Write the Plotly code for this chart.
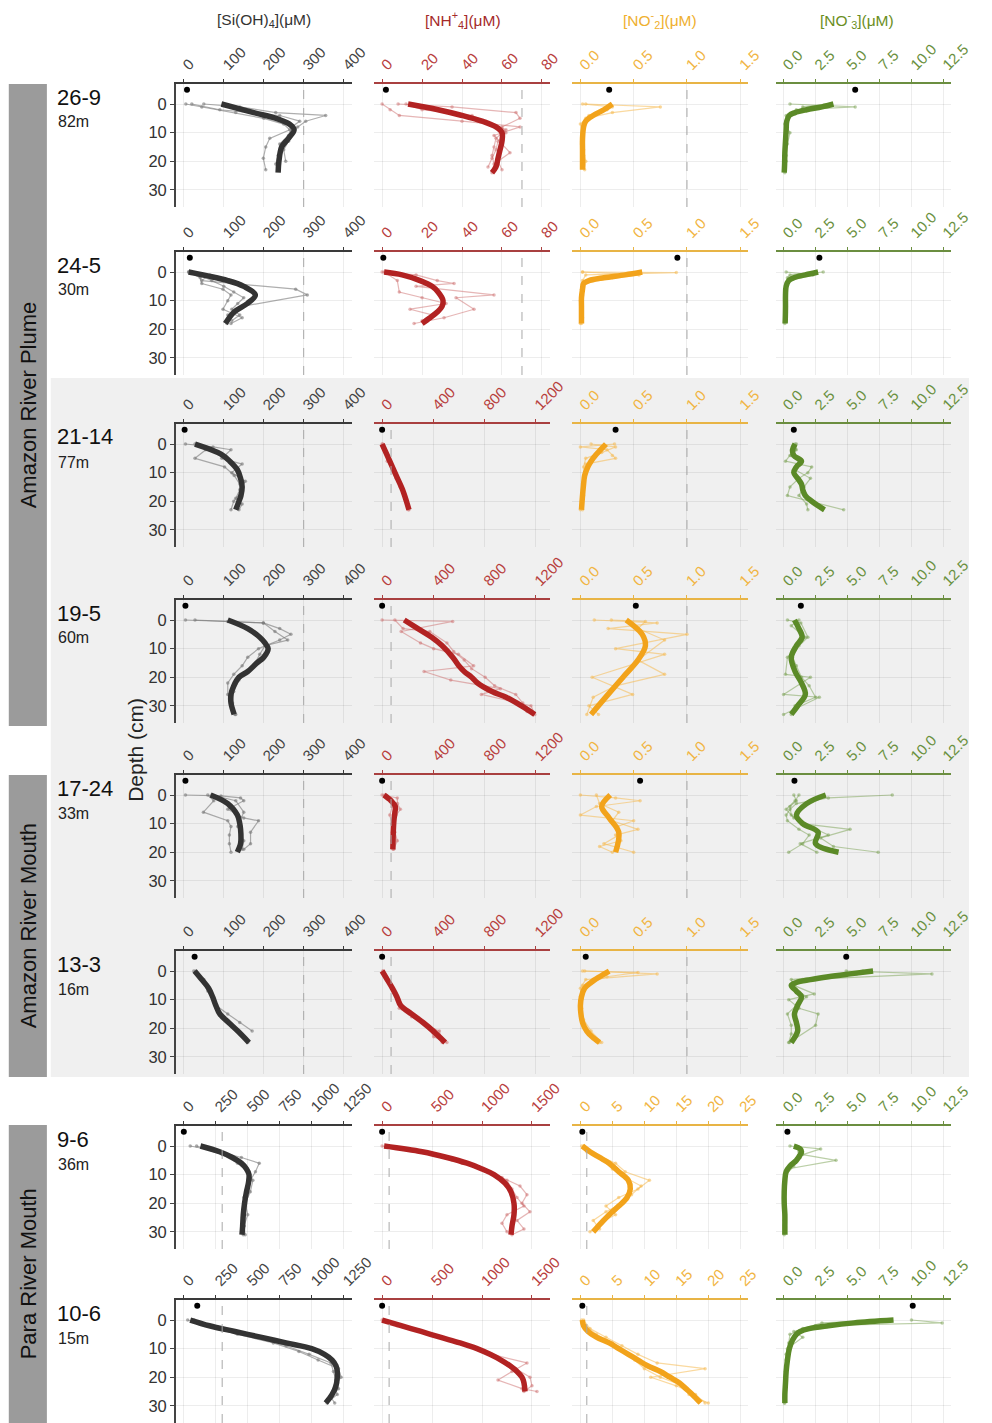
import plotly.graph_objects as go

W, H = 992, 1423

STATIONS = ["26-9", "24-5", "21-14", "19-5", "17-24", "13-3", "9-6", "10-6"]
WATER_DEPTH = ["82m", "30m", "77m", "60m", "33m", "16m", "36m", "15m"]
REGIONS = ["Amazon River Plume", "Amazon River Mouth", "Para River Mouth"]

# bottom-water concentrations (plotted just above the sediment surface)
BW_DEPTH = -5
SI_BW = [8, 15, 2, 4, 4, 27, 0, 105]
NH4_BW = [1.9, 0.6, 0, 0, 0, 0, 0, 0]
NO2_BW = [0.27, 0.91, 0.33, 0.52, 0.56, 0.05, 0.3, 0.3]
NO3_BW = [5.6, 2.8, 0.8, 1.35, 0.85, 4.9, 0.3, 10.1]

# reference lines (dashed)
SI_REF = 300
NH4_REF = 70
NO2_REF = 1.0

# ---- mean (smoothed) profiles: station -> (depth cm, value uM)
SI_MEAN = {
    "26-9": ([0, 3, 5, 7, 9, 12, 15, 20, 24], [94, 175, 231, 264, 276, 262, 245, 238, 236]),
    "24-5": ([0, 3, 5, 8, 11, 14, 18], [12, 110, 150, 179, 159, 126, 104]),
    "21-14": ([0, 3.5, 6, 9, 12, 15, 18, 20, 23], [28, 93, 115, 134, 142, 146, 143, 138, 130]),
    "19-5": ([0, 3, 6, 8, 10, 13, 15, 18, 20, 23, 26, 29, 33], [110, 160, 190, 203, 211, 200, 183, 160, 138, 125, 118, 118, 126]),
    "17-24": ([0, 3, 7, 10, 12, 15, 17, 20], [67, 110, 134, 140, 142, 143, 142, 134]),
    "13-3": ([0, 3, 6, 9, 12, 15, 18, 21, 25], [27, 45, 62, 72, 80, 90, 112, 135, 163]),
    "9-6": ([0, 2, 4, 6, 8, 10, 13, 16, 20, 24, 28, 31], [130, 280, 380, 450, 490, 510, 505, 490, 475, 465, 460, 455]),
    "10-6": ([0, 2, 4, 6, 8, 10, 12, 14, 16, 18, 20, 23, 26, 29], [50, 200, 400, 600, 800, 1000, 1100, 1160, 1190, 1200, 1200, 1190, 1160, 1110]),
}
SI_REPS = {
    "26-9": [([0, 1, 3, 5, 7, 9, 12, 15, 19, 23], [5, 45, 130, 200, 250, 265, 215, 205, 199, 205]),
             ([0, 1, 3, 4, 6, 8, 10, 13, 16, 20], [50, 140, 230, 355, 305, 285, 270, 262, 250, 255]),
             ([0, 2, 4, 6, 8, 11, 14, 18, 21], [20, 90, 240, 290, 270, 262, 240, 236, 230])],
    "24-5": [([0, 1, 3, 6, 8, 12, 15, 18], [12, 65, 45, 280, 309, 146, 110, 108]),
             ([0, 2, 4, 6, 8, 10, 13, 16, 18], [12, 41, 45, 98, 118, 110, 98, 146, 118]),
             ([0, 1, 3, 5, 7, 9, 11, 13, 15, 17], [15, 40, 70, 100, 125, 150, 135, 120, 140, 120])],
    "21-14": [([0, 1, 2, 5, 7, 10, 13, 16, 19, 21, 23], [4, 73, 118, 95, 146, 120, 154, 140, 130, 146, 138]),
              ([0, 2, 5, 8, 11, 14, 17, 20, 23], [28, 55, 28, 102, 126, 140, 142, 125, 118])],
    "19-5": [([0, 0.5, 1, 3, 5, 7, 10, 13, 16, 19, 22, 26, 29, 33], [4, 110, 199, 240, 268, 240, 187, 160, 146, 125, 110, 110, 118, 130]),
             ([0, 1, 4, 7, 9, 12, 16, 21, 25, 29, 33], [28, 199, 228, 260, 203, 190, 175, 138, 125, 122, 128])],
    "17-24": [([0, 0.3, 1, 2, 5, 8, 9, 13, 17, 19], [4, 93, 142, 150, 110, 150, 187, 167, 167, 150]),
              ([0, 2, 6, 9, 11, 14, 17, 20], [60, 75, 49, 110, 118, 114, 114, 118]),
              ([0, 2, 6, 11, 16, 19], [70, 130, 150, 135, 150, 146])],
    "13-3": [([0, 2, 4, 7, 10, 13, 16, 19, 22, 25], [25, 40, 50, 60, 75, 82, 95, 120, 140, 160]),
             ([0, 3, 6, 9, 12, 15, 18, 21], [30, 50, 60, 70, 80, 110, 140, 171])],
    "9-6": [([0, 2, 4, 6, 9, 12, 15, 18, 21, 25, 28, 31], [50, 280, 450, 590, 560, 520, 500, 470, 480, 460, 470, 465]),
            ([0, 3, 6, 9, 12, 16, 20, 24, 28, 31], [100, 300, 420, 500, 540, 520, 480, 500, 470, 480])],
    "10-6": [([0, 2, 5, 8, 11, 14, 17, 20, 23, 26, 29], [30, 180, 420, 700, 900, 1050, 1210, 1230, 1180, 1200, 1120]),
             ([0, 3, 6, 9, 12, 15, 18, 21, 24, 27, 29], [80, 300, 560, 800, 980, 1150, 1170, 1190, 1210, 1150, 1180])],
}

NH4_MEAN = {
    "26-9": ([0, 2, 4, 6, 8, 10, 13, 16, 19, 22, 24], [13, 28, 40, 50, 57, 60, 60, 59, 58, 57, 55]),
    "24-5": ([0, 1, 3, 5, 7, 10, 12, 14, 16, 18], [1, 10, 19, 25, 28, 30.5, 30, 27.6, 24, 20]),
    "21-14": ([0, 4, 8, 12, 16, 20, 23], [0, 40, 80, 120, 160, 190, 210]),
    "19-5": ([0, 3, 6, 9, 13, 16, 18, 20, 22, 25, 27, 30, 33], [173, 280, 388, 470, 552, 600, 642, 700, 746, 860, 970, 1090, 1194]),
    "17-24": ([0, 2, 4, 6, 9, 12, 15, 19], [15, 70, 104, 100, 92, 88, 86, 84]),
    "13-3": ([0, 3, 6, 9, 12, 15, 18, 21, 25], [0, 40, 80, 115, 145, 230, 320, 400, 493]),
    "9-6": ([0, 2, 4, 6, 8, 10, 13, 16, 20, 24, 28, 31], [20, 400, 650, 850, 1000, 1120, 1230, 1290, 1320, 1320, 1300, 1290]),
    "10-6": ([0, 2, 4, 6, 8, 10, 12, 14, 16, 18, 20, 22, 25], [0, 190, 390, 580, 780, 950, 1080, 1190, 1280, 1350, 1400, 1420, 1430]),
}
NH4_REPS = {
    "26-9": [([0, 2, 4, 6, 8, 11, 14, 17, 20, 23], [0, 4, 8.6, 40, 69, 56, 60, 64, 58, 60]),
             ([0, 1, 3, 5, 8, 10, 13, 16, 19, 22], [8, 35, 67, 69, 60, 62, 58, 57, 55, 53]),
             ([0, 2, 4, 6, 9, 12, 15, 18, 21, 24], [12, 20, 45, 52, 62, 57, 56, 55, 56, 55])],
    "24-5": [([0, 1, 3, 4, 5, 8, 9, 13, 16, 18], [0, 17, 27.6, 36, 17, 56, 37, 46, 31, 16]),
             ([0, 3, 7, 9, 11, 13, 15, 17], [1, 7.6, 8.6, 20, 32, 14, 25, 20])],
    "21-14": [([0, 3, 6, 9, 12, 15, 18, 21, 23], [0, 25, 40, 80, 110, 140, 170, 195, 210]),
              ([0, 2, 5, 8, 11, 14, 17, 20, 23], [5, 20, 55, 80, 105, 145, 160, 190, 205])],
    "19-5": [([0, 0.5, 4, 8, 10, 12, 16, 18, 21, 24, 26, 30, 33], [0, 552, 149, 300, 403, 597, 716, 328, 537, 925, 776, 1164, 1194]),
             ([0, 3, 4, 8, 11, 14, 17, 20, 23, 26, 29, 32], [100, 164, 373, 507, 560, 642, 700, 806, 880, 1045, 1100, 1134])],
    "17-24": [([0, 1, 3, 5, 7, 10, 13, 16, 19], [0, 119, 120, 143, 110, 90, 100, 119, 90]),
              ([0, 2, 4, 7, 10, 13, 16, 19], [20, 75, 80, 60, 75, 80, 75, 85])],
    "13-3": [([0, 3, 6, 10, 13, 16, 19, 21, 25], [10, 40, 85, 134, 134, 230, 350, 448, 470]),
             ([0, 2, 5, 8, 11, 14, 17, 20, 23, 25], [5, 35, 70, 110, 140, 200, 300, 370, 403, 507])],
    "9-6": [([0, 2, 5, 8, 11, 14, 17, 20, 23, 26, 29, 31], [0, 350, 700, 1000, 1200, 1380, 1450, 1400, 1480, 1350, 1420, 1300]),
            ([0, 3, 6, 9, 12, 15, 18, 21, 24, 27, 30], [50, 500, 800, 1050, 1250, 1300, 1350, 1420, 1250, 1200, 1250])],
    "10-6": [([0, 3, 6, 9, 12, 15, 18, 21, 24, 25], [0, 300, 560, 880, 1100, 1450, 1300, 1160, 1400, 1550]),
             ([0, 2, 5, 8, 11, 14, 17, 20, 23, 25], [20, 150, 450, 750, 1000, 1200, 1340, 1480, 1500, 1420])],
}

NO2_MEAN = {
    "26-9": ([0, 2, 4, 6, 8, 12, 16, 20, 23], [0.30, 0.22, 0.12, 0.05, 0.03, 0.02, 0.02, 0.02, 0.02]),
    "24-5": ([0, 1, 2, 3, 4, 6, 9, 12, 15, 18], [0.58, 0.42, 0.22, 0.08, 0.03, 0.02, 0.01, 0.01, 0.01, 0.01]),
    "21-14": ([0, 2, 4, 6, 8, 11, 14, 18, 23], [0.24, 0.19, 0.14, 0.10, 0.07, 0.04, 0.03, 0.02, 0.01]),
    "19-5": ([0, 5, 9, 14, 20, 26, 33], [0.43, 0.58, 0.61, 0.54, 0.40, 0.26, 0.10]),
    "17-24": ([0, 4, 8, 13, 20], [0.28, 0.20, 0.27, 0.36, 0.33]),
    "13-3": ([0, 2, 4, 6, 9, 12, 15, 18, 21, 23, 25], [0.27, 0.18, 0.10, 0.04, 0.01, 0.0, 0.005, 0.02, 0.06, 0.11, 0.18]),
    "9-6": ([0, 2, 4, 6, 9, 12, 15, 18, 21, 24, 27, 30], [0.3, 1.5, 3.0, 4.5, 6.0, 7.5, 7.8, 7.3, 6.0, 4.5, 3.2, 2.0]),
    "10-6": ([0, 2, 4, 6, 8, 10, 12, 14, 16, 18, 20, 22, 24, 26, 29], [0.3, 0.5, 1.2, 2.5, 4.5, 6.0, 7.5, 9.0, 10.5, 12.5, 14.0, 15.5, 16.5, 17.5, 18.8]),
}
NO2_REPS = {
    "26-9": [([0, 1, 3, 5, 8, 12, 16, 20, 23], [0.05, 0.75, 0.30, 0.05, 0.02, 0.02, 0.03, 0.05, 0.04]),
             ([0, 1, 2, 4, 7, 10, 14, 18, 22], [0.02, 0.30, 0.25, 0.08, 0.0, 0.02, 0.01, 0.03, 0.02])],
    "24-5": [([0, 0.2, 1, 3, 6, 10, 14, 18], [0.02, 0.90, 0.05, 0.02, 0.01, 0.0, 0.01, 0.0]),
             ([0, 1, 2, 4, 8, 12, 16, 18], [0.02, 0.55, 0.30, 0.05, 0.02, 0.01, 0.02, 0.01])],
    "21-14": [([0, 1, 2, 4, 5, 7, 10, 14, 18, 23], [0.32, 0.0, 0.25, 0.30, 0.33, 0.05, 0.04, 0.02, 0.03, 0.0]),
              ([0, 1, 3, 5, 8, 12, 16, 20, 23], [0.10, 0.33, 0.20, 0.05, 0.03, 0.04, 0.02, 0.01, 0.02])],
    "19-5": [([0, 1, 3, 5, 10, 12, 20, 26, 30, 33], [0.13, 0.72, 0.26, 1.0, 0.33, 0.79, 0.11, 0.49, 0.08, 0.17]),
             ([0, 0.5, 3, 7, 14, 19, 23, 27, 33], [0.29, 0.61, 0.54, 0.79, 0.54, 0.79, 0.33, 0.12, 0.06])],
    "17-24": [([0, 1, 2, 4, 7, 9, 11, 14, 17, 20], [0.0, 0.33, 0.56, 0.15, 0.0, 0.50, 0.35, 0.36, 0.22, 0.50]),
              ([0, 3, 6, 9, 12, 14, 16, 18, 20], [0.15, 0.18, 0.36, 0.30, 0.54, 0.33, 0.38, 0.18, 0.30])],
    "13-3": [([0, 1, 3, 6, 10, 14, 18, 22, 25], [0.04, 0.72, 0.05, 0.0, 0.01, 0.0, 0.02, 0.08, 0.18]),
             ([0, 0.5, 2, 5, 9, 13, 17, 21, 25], [0.02, 0.54, 0.25, 0.02, 0.0, 0.01, 0.03, 0.10, 0.20])],
    "9-6": [([0, 3, 6, 9, 12, 15, 18, 21, 24, 27, 30], [0.5, 2.5, 5.5, 7.0, 10.8, 9.0, 6.0, 4.0, 5.5, 3.0, 1.5]),
            ([0, 2, 5, 8, 11, 14, 17, 20, 23, 26, 29], [0.2, 1.0, 3.5, 5.0, 7.0, 9.5, 8.0, 6.5, 4.0, 2.0, 3.0])],
    "10-6": [([0, 3, 6, 9, 12, 15, 17, 20, 23, 26, 29], [0.5, 1.5, 4.0, 6.5, 9.0, 12.0, 19.5, 11.0, 15.0, 18.0, 19.5]),
             ([0, 2, 5, 8, 11, 14, 17, 20, 23, 26, 29], [0.2, 0.8, 2.5, 5.0, 7.0, 8.5, 10.0, 12.5, 16.0, 17.0, 20.0])],
}

NO3_MEAN = {
    "26-9": ([0, 1, 2, 3, 4, 6, 9, 13, 17, 21, 24], [3.9, 3.0, 1.8, 0.9, 0.45, 0.25, 0.2, 0.15, 0.1, 0.08, 0.05]),
    "24-5": ([0, 1, 2, 3, 5, 8, 12, 15, 18], [2.7, 1.7, 0.8, 0.4, 0.2, 0.15, 0.15, 0.14, 0.12]),
    "21-14": ([0, 2, 4, 6, 8, 10, 12, 14, 16, 18, 20, 23], [0.9, 0.7, 0.8, 1.4, 1.0, 0.8, 1.1, 1.4, 1.5, 1.7, 2.2, 3.2]),
    "19-5": ([0, 3, 6, 9, 13, 18, 22, 26, 30, 33], [0.85, 1.2, 1.45, 1.0, 0.6, 0.9, 1.4, 1.7, 1.1, 0.6]),
    "17-24": ([0, 3, 7, 10, 13, 17, 20], [3.3, 1.8, 1.0, 1.5, 2.7, 2.5, 4.3]),
    "13-3": ([0, 1, 2, 3, 4, 5, 7, 9, 12, 15, 18, 21, 25], [7.0, 5.2, 3.5, 2.1, 1.0, 0.6, 1.0, 1.4, 1.1, 0.85, 1.0, 1.1, 0.6]),
    "9-6": ([0, 1, 2, 3, 5, 7, 9, 12, 16, 20, 24, 28, 31], [0.8, 1.3, 1.4, 1.3, 1.0, 0.5, 0.2, 0.1, 0.05, 0.05, 0.1, 0.1, 0.1]),
    "10-6": ([0, 1, 2, 3, 4, 5, 7, 10, 14, 18, 22, 26, 29], [8.6, 5.5, 3.5, 2.0, 1.3, 1.0, 0.7, 0.45, 0.3, 0.2, 0.15, 0.1, 0.1]),
}
NO3_REPS = {
    "26-9": [([0, 1, 2, 4, 8, 12, 16, 20, 24], [0.5, 5.6, 1.0, 0.2, 0.3, 0.2, 0.1, 0.2, 0.1]),
             ([0, 1, 3, 5, 7, 10, 14, 18, 22], [3.6, 1.5, 1.2, 0.3, 0.1, 0.5, 0.3, 0.2, 0.1])],
    "24-5": [([0, 1, 2, 4, 8, 12, 16, 18], [3.1, 0.5, 0.3, 0.3, 0.1, 0.2, 0.1, 0.1]),
             ([0, 1, 3, 6, 10, 14, 17], [0.2, 2.3, 0.4, 0.2, 0.2, 0.1, 0.2])],
    "21-14": [([0, 2, 4, 6, 8, 10, 12, 15, 18, 23], [0.9, 0.9, 0.5, 0.15, 2.2, 1.9, 1.2, 0.5, 0.3, 4.7]),
              ([0, 2, 4, 6, 9, 12, 15, 18, 21, 23], [1.0, 1.0, 0.6, 1.2, 0.9, 2.1, 1.6, 1.2, 1.8, 1.9])],
    "19-5": [([0, 1, 6, 13, 19, 20, 26, 27, 33], [0.3, 1.35, 1.9, 0.3, 0.15, 2.1, 0.0, 2.8, 0.0]),
             ([0, 2, 6, 9, 13, 16, 20, 23, 27, 30, 33], [1.2, 0.6, 1.7, 1.2, 0.7, 1.0, 1.4, 2.0, 2.5, 0.9, 0.6])],
    "17-24": [([0, 1, 3, 5, 7, 9, 12, 14, 17, 20], [8.5, 3.5, 1.0, 0.5, 0.2, 0.3, 1.2, 2.0, 1.5, 0.4]),
              ([0, 2, 4, 7, 10, 12, 15, 18, 20], [0.8, 1.0, 0.5, 0.6, 1.4, 5.2, 2.9, 3.9, 7.4]),
              ([0, 2, 5, 8, 11, 14, 17, 20], [1.2, 0.9, 0.2, 0.8, 2.1, 3.5, 1.3, 2.6])],
    "13-3": [([0, 1, 3, 5, 8, 10, 13, 15, 19, 25], [4.9, 11.6, 1.5, 0.8, 2.4, 0.4, 1.2, 2.7, 2.5, 0.45]),
             ([0, 1, 3, 6, 9, 12, 15, 19, 22, 25], [6.2, 5.7, 0.6, 0.8, 1.8, 1.0, 0.3, 0.6, 0.6, 0.4])],
    "9-6": [([0, 1, 3, 5, 8, 12, 16, 20, 24, 28, 31], [0.5, 2.9, 1.5, 4.1, 0.3, 0.1, 0.05, 0.1, 0.05, 0.1, 0.05]),
            ([0, 2, 4, 7, 10, 14, 18, 22, 26, 30], [1.0, 1.2, 1.3, 0.8, 0.2, 0.1, 0.05, 0.1, 0.05, 0.1])],
    "10-6": [([0, 1, 2, 4, 6, 10, 14, 18, 22, 26, 29], [10.0, 12.4, 2.5, 0.8, 1.5, 0.3, 0.2, 0.15, 0.1, 0.1, 0.05]),
             ([0, 1, 3, 5, 8, 12, 16, 20, 24, 29], [8.0, 3.0, 1.5, 0.5, 0.4, 0.2, 0.15, 0.1, 0.1, 0.1])],
}

# axis limits (before 5% expansion) and ticks per row
SI_LIM = [400] * 6 + [1250] * 2
SI_TICKS = [[0, 100, 200, 300, 400]] * 6 + [[0, 250, 500, 750, 1000, 1250]] * 2
NH4_LIM = [80, 80, 1250, 1250, 1250, 1250, 1600, 1600]
NH4_TICKS = [[0, 20, 40, 60, 80]] * 2 + [[0, 400, 800, 1200]] * 4 + [[0, 500, 1000, 1500]] * 2
NO2_LIM = [1.5] * 6 + [25] * 2
NO2_TICKS = [[0, 0.5, 1.0, 1.5]] * 6 + [[0, 5, 10, 15, 20, 25]] * 2
NO3_LIM = [12.5] * 8
NO3_TICKS = [[0, 2.5, 5, 7.5, 10, 12.5]] * 8

VARS = [
    dict(mean=SI_MEAN, reps=SI_REPS, bw=SI_BW, lim=SI_LIM, ticks=SI_TICKS, ref=SI_REF,
         thick="#333333", thin="rgba(120,120,120,0.6)", tick="#444444", axis="#3a3a3a",
         title="[Si(OH)<sub>4</sub>](μM)", tcol="#333333", hx=270),
    dict(mean=NH4_MEAN, reps=NH4_REPS, bw=NH4_BW, lim=NH4_LIM, ticks=NH4_TICKS, ref=NH4_REF,
         thick="#b22222", thin="rgba(205,110,110,0.5)", tick="#b8403e", axis="#a94040",
         title="[NH<sup>+</sup><sub>4</sub>](μM)", tcol="#a52a2a", hx=474),
    dict(mean=NO2_MEAN, reps=NO2_REPS, bw=NO2_BW, lim=NO2_LIM, ticks=NO2_TICKS, ref=NO2_REF,
         thick="#f2a31b", thin="rgba(245,185,80,0.55)", tick="#f1b544", axis="#e8b445",
         title="[NO<sup>-</sup><sub>2</sub>](μM)", tcol="#efb030", hx=676),
    dict(mean=NO3_MEAN, reps=NO3_REPS, bw=NO3_BW, lim=NO3_LIM, ticks=NO3_TICKS, ref=None,
         thick="#5b8a27", thin="rgba(120,160,80,0.5)", tick="#6a9040", axis="#6b8e40",
         title="[NO<sup>-</sup><sub>3</sub>](μM)", tcol="#6b8e23", hx=877),
]

COL_X = [(180, 360), (383, 563), (586, 766), (794, 974)]
ROW_TOP = [84, 252, 424, 600, 775, 951, 1126, 1300]
PANEL_H = 123
FONT = "Liberation Sans, Arial, sans-serif"
GRID = "rgba(0,0,0,0.07)"


def px_x(x):
    return x / W


def px_y(y):
    return 1 - y / H


fig = go.Figure()
layout = dict(width=W, height=H, margin=dict(l=0, r=0, t=0, b=0), autosize=False,
              paper_bgcolor="white", plot_bgcolor="rgba(0,0,0,0)", showlegend=False,
              hovermode=False, font=dict(family=FONT, color="#222"))
shapes = []
annotations = []

# background shading and region bands
shapes.append(dict(type="rect", xref="paper", yref="paper", layer="below",
                   x0=px_x(52), x1=1, y0=px_y(1077), y1=px_y(378),
                   fillcolor="#f0f0f0", line=dict(width=0)))
BANDS = [(84, 726), (775, 1077), (1125, 1423)]
for (y0, y1), name in zip(BANDS, REGIONS):
    shapes.append(dict(type="rect", xref="paper", yref="paper", layer="below",
                       x0=px_x(9), x1=px_x(48), y0=px_y(y1), y1=px_y(y0),
                       fillcolor="#9b9b9b", line=dict(width=0)))
    annotations.append(dict(text=name, xref="paper", yref="paper", x=px_x(29), y=px_y((y0 + y1) / 2),
                            showarrow=False, textangle=-90, font=dict(size=22, color="#111", family=FONT),
                            xanchor="center", yanchor="middle"))

for c, v in enumerate(VARS):
    annotations.append(dict(text=v["title"], xref="paper", yref="paper", x=px_x(v["hx"]), y=px_y(20),
                            showarrow=False, font=dict(size=15.5, color=v["tcol"], family=FONT),
                            xanchor="center", yanchor="middle"))

for r, st in enumerate(STATIONS):
    top = ROW_TOP[r]
    annotations.append(dict(text=st, xref="paper", yref="paper", x=px_x(56), y=px_y(top + 13),
                            showarrow=False, font=dict(size=22, color="#111", family=FONT),
                            xanchor="left", yanchor="middle"))
    annotations.append(dict(text=WATER_DEPTH[r], xref="paper", yref="paper", x=px_x(57), y=px_y(top + 38),
                            showarrow=False, font=dict(size=16, color="#222", family=FONT),
                            xanchor="left", yanchor="middle"))
    for c, v in enumerate(VARS):
        n = r * 4 + c + 1
        xa = "x" if n == 1 else f"x{n}"
        ya = "y" if n == 1 else f"y{n}"
        lim = v["lim"][r]
        ticks = v["ticks"][r]
        fmt = ".1f" if (c == 2 and lim < 5) or c == 3 else ""
        layout["xaxis" if n == 1 else f"xaxis{n}"] = dict(
            domain=[px_x(COL_X[c][0]), px_x(COL_X[c][1])], anchor=ya, side="top",
            range=[-0.05 * lim, 1.05 * lim], tickvals=ticks, tickformat=fmt,
            tickangle=-45, ticks="outside", ticklen=3, tickcolor=v["axis"],
            tickfont=dict(size=15, color=v["tick"], family=FONT),
            showline=True, linecolor=v["axis"], linewidth=1.5,
            showgrid=True, gridcolor=GRID, gridwidth=1, zeroline=False, fixedrange=True)
        layout["yaxis" if n == 1 else f"yaxis{n}"] = dict(
            domain=[px_y(top + PANEL_H), px_y(top)], anchor=xa, range=[36, -7],
            tickvals=[0, 10, 20, 30], showticklabels=(c == 0),
            ticks="outside" if c == 0 else "", ticklen=4, tickcolor="#444",
            tickfont=dict(size=16.5, color="#333", family=FONT),
            showline=(c == 0), linecolor="#444", linewidth=1.5,
            showgrid=True, gridcolor=GRID, zeroline=False, fixedrange=True)
        if v["ref"] is not None:
            shapes.append(dict(type="line", xref=xa, yref=f"{ya} domain", x0=v["ref"], x1=v["ref"],
                               y0=0, y1=1, line=dict(color="#a8a8a8", width=1, dash="dash")))
        for dd, vv in v["reps"][st]:
            fig.add_trace(go.Scatter(x=vv, y=dd, mode="lines+markers", xaxis=xa, yaxis=ya,
                                     line=dict(color=v["thin"], width=1.2),
                                     marker=dict(size=3.5, color=v["thin"])))
        dd, vv = v["mean"][st]
        fig.add_trace(go.Scatter(x=vv, y=dd, mode="lines", xaxis=xa, yaxis=ya,
                                 line=dict(color=v["thick"], width=5.5, shape="spline", smoothing=1.0)))
        fig.add_trace(go.Scatter(x=[v["bw"][r]], y=[BW_DEPTH], mode="markers", xaxis=xa, yaxis=ya,
                                 marker=dict(size=6, color="black")))

annotations.append(dict(text="Depth (cm)", xref="paper", yref="paper", x=px_x(138), y=px_y(750),
                        showarrow=False, textangle=-90, font=dict(size=21, color="#222", family=FONT),
                        xanchor="center", yanchor="middle"))

layout["shapes"] = shapes
layout["annotations"] = annotations
fig.update_layout(**layout)
fig.write_html("out.html", config={"responsive": False, "displayModeBar": False})
